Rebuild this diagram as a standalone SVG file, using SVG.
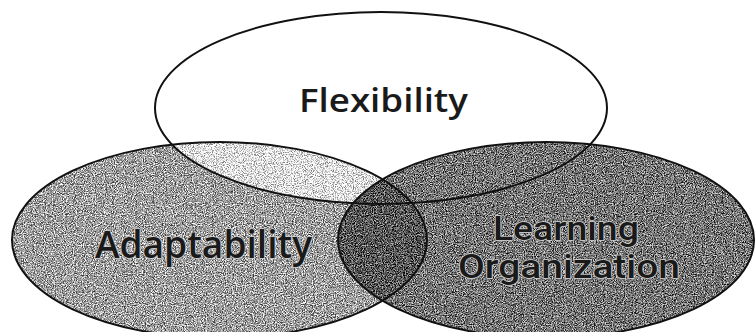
<svg xmlns="http://www.w3.org/2000/svg" width="755" height="332" viewBox="0 0 755 332">
  <style>
    .outline { fill: none; stroke: #111; stroke-width: 2; }
    .label { font-family: "Open Sans", "Liberation Sans", sans-serif; text-anchor: middle; fill: #1a1a1a; }
    .tight { font-family: Roboto, "Liberation Sans", sans-serif; }
    .halo { stroke: #d0d0d0; stroke-width: 1.5; paint-order: stroke; stroke-linejoin: round; }
  </style>
  <defs>
    <clipPath id="clipLeft"><ellipse cx="219.5" cy="240" rx="207.5" ry="98"/></clipPath>
    <clipPath id="clipRight"><ellipse cx="546" cy="240" rx="208" ry="98"/></clipPath>
    <filter id="grain" filterUnits="userSpaceOnUse" x="0" y="0" width="755" height="332" color-interpolation-filters="sRGB">
      <feTurbulence type="fractalNoise" baseFrequency="0.9" numOctaves="2" seed="7" result="noise"/>
      <feColorMatrix in="noise" type="matrix" values="1.4 1.4 1.4 0 -1.6  1.4 1.4 1.4 0 -1.6  1.4 1.4 1.4 0 -1.6  0 0 0 0 1" result="g"/>
      <feComposite in="SourceGraphic" in2="g" operator="arithmetic" k1="0" k2="1" k3="0.8" k4="-0.4" result="c"/>
      <feComposite in="c" in2="SourceAlpha" operator="in"/>
    </filter>
  </defs>
  <rect width="755" height="332" fill="#ffffff"/>

  <g id="fills">
    <ellipse cx="381" cy="108" rx="226" ry="96" fill="#ffffff"/>
    <g filter="url(#grain)">
      <ellipse cx="219.5" cy="240" rx="207.5" ry="98" fill="#9e9e9e"/>
      <ellipse cx="381" cy="108" rx="226" ry="96" fill="#e2e2e2" clip-path="url(#clipLeft)"/>
      <ellipse cx="546" cy="240" rx="208" ry="98" fill="#747474"/>
      <ellipse cx="219.5" cy="240" rx="207.5" ry="98" fill="#565656" clip-path="url(#clipRight)"/>
    </g>
  </g>

  <g id="node-adaptability">
    <ellipse class="outline" cx="219.5" cy="240" rx="207.5" ry="98"/>
    <text class="label halo" x="203.5" y="258" font-size="38" font-weight="600" textLength="217" lengthAdjust="spacingAndGlyphs">Adaptability</text>
  </g>

  <g id="node-learning-organization">
    <ellipse class="outline" cx="546" cy="240" rx="208" ry="98"/>
    <text class="label tight halo" font-size="33" font-weight="500">
      <tspan x="570" y="240" textLength="146" lengthAdjust="spacingAndGlyphs">Learning</tspan>
      <tspan x="569" y="278" textLength="222" lengthAdjust="spacingAndGlyphs">Organization</tspan>
    </text>
  </g>

  <g id="node-flexibility">
    <ellipse class="outline" cx="381" cy="108" rx="226" ry="96"/>
    <text class="label" x="383.5" y="112" font-size="33" font-weight="600" fill="#111" textLength="169" lengthAdjust="spacingAndGlyphs">Flexibility</text>
  </g>

  <g id="connectors"></g>
</svg>
